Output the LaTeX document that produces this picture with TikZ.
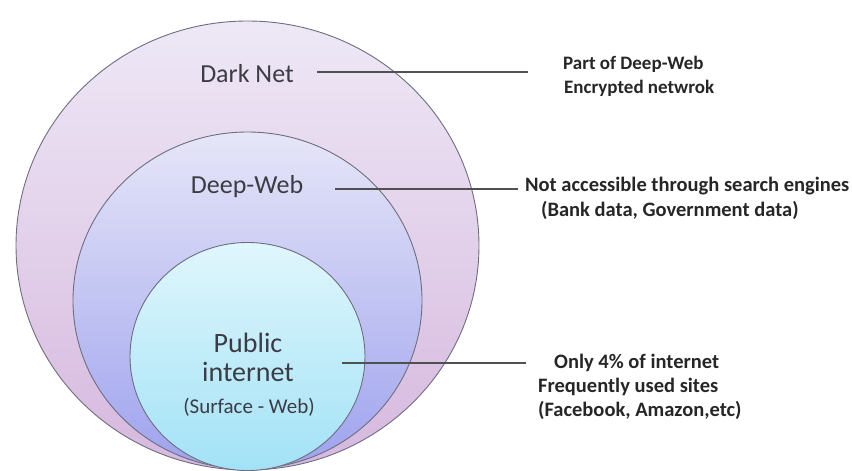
\documentclass[tikz,border=0pt]{standalone}
\usepackage{fontspec}
\setmainfont{Carlito}
\definecolor{outertop}{HTML}{EEE8F6}
\definecolor{outerbot}{HTML}{D6B8DE}
\definecolor{midtop}{HTML}{E6E6F8}
\definecolor{midbot}{HTML}{9EA2EE}
\definecolor{intop}{HTML}{E0F6FC}
\definecolor{inbot}{HTML}{A2E2F6}
\definecolor{rimcol}{HTML}{6E6E7E}
\definecolor{labcol}{HTML}{3C3C44}
\definecolor{txtcol}{HTML}{262626}
\definecolor{linecol}{HTML}{505050}
\tikzset{
  rim/.style={draw=rimcol, line width=0.9pt},
  biglab/.style={inner sep=0pt, text=labcol, font=\fontsize{26}{30}\selectfont, anchor=base},
  publab/.style={inner sep=0pt, text=labcol, font=\fontsize{28}{32}\selectfont, anchor=base},
  smalllab/.style={inner sep=0pt, text=labcol, font=\fontsize{21}{24}\selectfont, anchor=base},
  note/.style={inner sep=0pt, text=txtcol, font=\bfseries\fontsize{20.5}{24}\selectfont, anchor=base west},
  notesmall/.style={note, font=\bfseries\fontsize{19}{22}\selectfont},
  leader/.style={draw=linecol, line width=1.4pt}
}
\begin{document}
\begin{tikzpicture}[x=1pt,y=-1pt]
\useasboundingbox (0,0) rectangle (852,471);
% circles
\shade[top color=outertop, bottom color=outerbot] (247.5,245.5) ellipse [x radius=231.5, y radius=224.5];
\draw[rim] (247.5,245.5) ellipse [x radius=231.5, y radius=224.5];
\shade[top color=midtop, bottom color=midbot] (247.5,300.5) ellipse [x radius=174.5, y radius=168.5];
\draw[rim] (247.5,300.5) ellipse [x radius=174.5, y radius=168.5];
\shade[top color=intop, bottom color=inbot] (247.5,356.5) ellipse [x radius=117.5, y radius=114];
\draw[rim] (247.5,356.5) ellipse [x radius=117.5, y radius=114];
% left labels
\node[biglab] (dark) at (247,82) {Dark Net};
\node[biglab] (deep) at (247,193) {Deep-Web};
\node[publab] (pub1) at (248,352) {Public};
\node[publab] (pub2) at (248,381) {internet};
\node[smalllab] (pub3) at (249,413) {(Surface - Web)};
% right notes
\node[notesmall] (n1a) at (563,69) {Part of Deep-Web};
\node[notesmall] (n1b) at (564,93) {Encrypted netwrok};
\node[note] (n2a) at (525,191) {Not accessible through search engines};
\node[note] (n2b) at (541,216) {(Bank data, Government data)};
\node[note] (n3a) at (554,368) {Only 4\% of internet};
\node[note] (n3b) at (538,392) {Frequently used sites};
\node[note] (n3c) at (538,416) {(Facebook, Amazon,etc)};
% leaders
\coordinate (l1s) at (317,72); \coordinate (l1e) at (528,72);
\coordinate (l2s) at (335,189); \coordinate (l2e) at (518,189);
\coordinate (l3s) at (342,363); \coordinate (l3e) at (526,363);
\draw[leader] (l1s) -- (l1e);
\draw[leader] (l2s) -- (l2e);
\draw[leader] (l3s) -- (l3e);
\end{tikzpicture}
\end{document}
